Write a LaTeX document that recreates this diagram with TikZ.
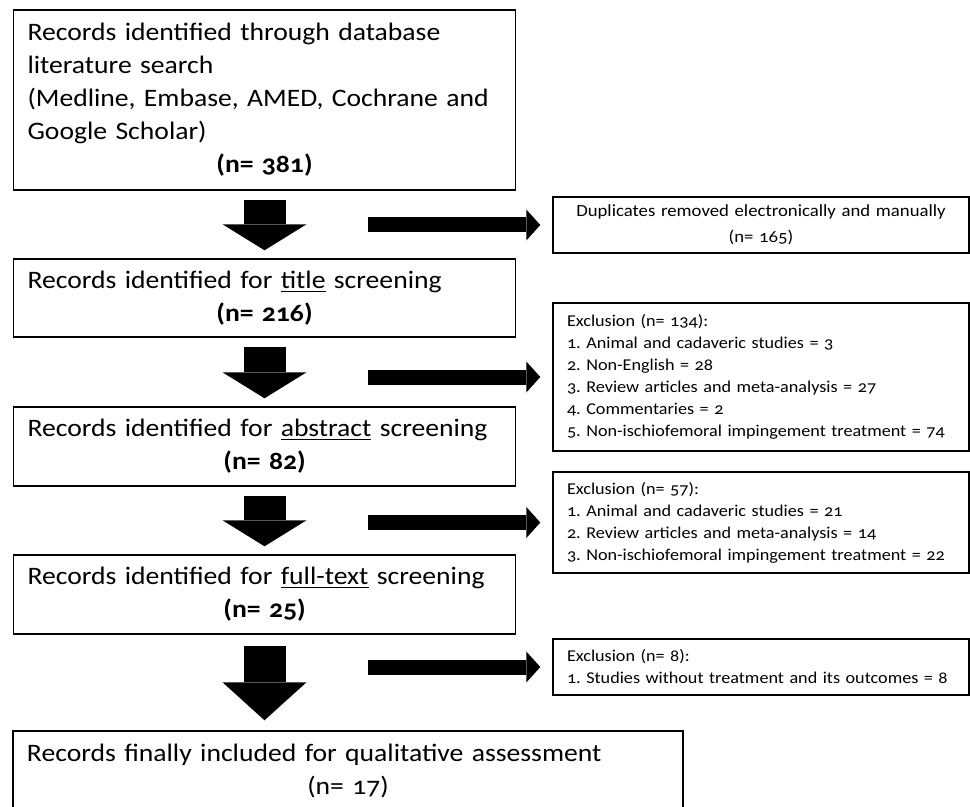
\documentclass[tikz,border=0pt]{standalone}
\usepackage{fontspec}
\setmainfont{Carlito}[Numbers=OldStyle, FakeStretch=1.1, WordSpace=0.8]
\usepackage{tikz}
\usetikzlibrary{arrows.meta}
\frenchspacing
\newcommand{\recfont}{\fontsize{14.3}{18.8}\selectfont}
\newcommand{\exfont}{\fontsize{9.4}{12.5}\selectfont}
\newcommand{\dupfont}{\fontsize{9.7}{14.8}\selectfont}

\begin{document}
\begin{tikzpicture}[line width=0.8pt]
    \tikzstyle{record}=[draw, rectangle, inner xsep=0.28cm, text width=9.48cm, minimum width=10.04cm, align=left, font=\recfont]
    \tikzstyle{excl}=[draw, rectangle, inner xsep=0.28cm, text width=7.76cm, minimum width=8.32cm, align=left, font=\exfont]
    \tikzstyle{fatdown}=[line width=0.84cm, -{Triangle[width=1.68cm, length=0.52cm, line width=0pt]}, shorten <=0.18cm, shorten >=0.16cm]
    \tikzstyle{fatright}=[line width=0.3cm, -{Triangle[width=0.62cm, length=0.28cm, line width=0pt]}, shorten >=0.24cm]
    \useasboundingbox (0, 0) rectangle (19.4, -16.14);
    \node[record, minimum height=3.6cm] (db) at (5.29, -2.0) {Records identified through database\\
        literature search\\
        (Medline, Embase, AMED, Cochrane and\\
        Google Scholar)\par
        \centerline{\bfseries (n= 381)}};
    \node[record, minimum height=1.56cm] (ti) at (5.29, -5.96) {Records identified for \underline{title} screening\par
        \centerline{\bfseries (n= 216)}};
    \node[record, minimum height=1.58cm] (ab) at (5.29, -8.93) {Records identified for \underline{abstract} screening\par
        \centerline{\bfseries (n= 82)}};
    \node[record, minimum height=1.58cm] (ft) at (5.29, -11.89) {Records identified for \underline{full-text} screening\par
        \centerline{\bfseries (n= 25)}};
    \node[record, text width=12.84cm, minimum width=13.4cm, minimum height=1.6cm] (fi) at (6.96, -15.42) {Records finally included for qualitative assessment\par
        \centerline{(n= 17)}};
    \node[excl, align=center, font=\dupfont, minimum height=1.12cm] (dup) at (15.22, -4.5) {Duplicates removed electronically and manually\\(n= 165)};
    \node[excl, minimum height=2.96cm] (ex1) at (15.22, -7.54) {Exclusion (n= 134):\\
        1. Animal and cadaveric studies = 3\\
        2. Non-English = 28\\
        3. Review articles and meta-analysis = 27\\
        4. Commentaries = 2\\
        5. Non-ischiofemoral impingement treatment = 74};
    \node[excl, minimum height=2.02cm] (ex2) at (15.22, -10.45) {Exclusion (n= 57):\\
        1. Animal and cadaveric studies = 21\\
        2. Review articles and meta-analysis = 14\\
        3. Non-ischiofemoral impingement treatment = 22};
    \node[excl, minimum height=1.12cm] (ex3) at (15.22, -13.34) {Exclusion (n= 8):\\
        1. Studies without treatment and its outcomes = 8};
    \coordinate (s1) at (7.36, -4.5);
    \coordinate (s2) at (7.36, -7.54);
    \coordinate (s3) at (7.36, -10.45);
    \coordinate (s4) at (7.36, -13.34);
    \path (db) edge[fatdown] (ti);
    \path (ti) edge[fatdown] (ab);
    \path (ab) edge[fatdown] (ft);
    \path (ft.south) edge[fatdown, -{Triangle[width=1.68cm, length=0.76cm, line width=0pt]}, shorten <=0.22cm, shorten >=0.2cm] (ft.south |- fi.north);
    \path (s1) edge[fatright] (dup);
    \path (s2) edge[fatright] (ex1);
    \path (s3) edge[fatright] (ex2);
    \path (s4) edge[fatright] (ex3);
\end{tikzpicture}
\end{document}
